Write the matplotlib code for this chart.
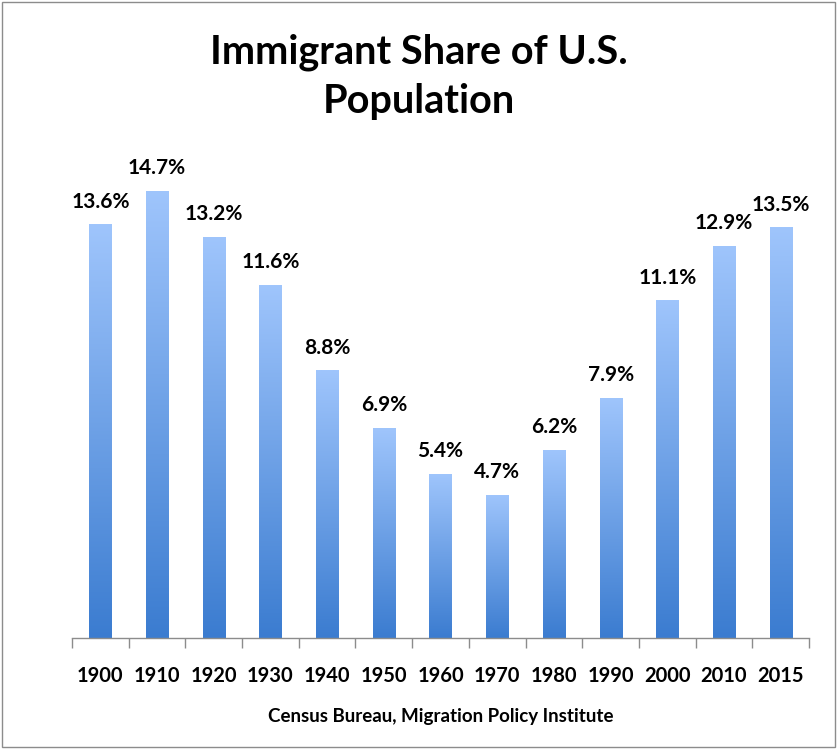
import numpy as np
import matplotlib
matplotlib.use("Agg")
import matplotlib.pyplot as plt
from matplotlib.colors import LinearSegmentedColormap
from matplotlib.patches import Rectangle

# ===== Data =====
years = ["1900", "1910", "1920", "1930", "1940", "1950", "1960",
         "1970", "1980", "1990", "2000", "2010", "2015"]
shares = [13.6, 14.7, 13.2, 11.6, 8.8, 6.9, 5.4, 4.7, 6.2, 7.9, 11.1, 12.9, 13.5]

plt.rcParams["font.family"] = ["Lato", "DejaVu Sans"]

fig = plt.figure(figsize=(8.38, 7.49), dpi=100)
ax = fig.add_axes([0.0859, 0.148, 0.8795, 0.652])

x = np.arange(len(years))
bars = ax.bar(x, shares, width=0.39, color="none", edgecolor="none")

# vertical gradient fill for each bar
cmap = LinearSegmentedColormap.from_list("bar_grad", ["#3b7cd0", "#9fc5fc"])
grad = np.linspace(0, 1, 256).reshape(-1, 1)
for b in bars:
    x0, y0 = b.get_x(), b.get_y()
    w, h = b.get_width(), b.get_height()
    im = ax.imshow(grad, cmap=cmap, origin="lower", aspect="auto",
                   extent=(x0, x0 + w, y0, y0 + h), zorder=2)
    im.set_clip_path(b)

for xi, v in zip(x, shares):
    ax.text(xi, v + 0.55, f"{v}%", ha="center", va="baseline",
            fontsize=15, fontweight="bold", color="black")

ax.set_xlim(-0.5, len(years) - 0.5)
ax.set_ylim(0, 16.05)

for s in ["top", "right", "left"]:
    ax.spines[s].set_visible(False)
ax.spines["bottom"].set_color("#8c8c8c")
ax.spines["bottom"].set_linewidth(1)
ax.set_yticks([])

ax.set_xticks(x)
ax.set_xticklabels(years, fontsize=14.5, fontweight="bold")
ax.tick_params(axis="x", which="major", length=0, pad=20)
ax.set_xticks(np.arange(-0.5, len(years)), minor=True)
ax.tick_params(axis="x", which="minor", length=7, color="#8c8c8c", width=1)

ax.set_xlabel("Census Bureau, Migration Policy Institute",
              fontsize=13.5, fontweight="bold", labelpad=16)

fig.text(0.5, 0.898, "Immigrant Share of U.S.\nPopulation", ha="center",
         va="center", fontsize=28.5, fontweight="bold", linespacing=1.4)

# outer border
fig.patches.append(Rectangle((0.002, 0.003), 0.995, 0.994, transform=fig.transFigure,
                             fill=False, edgecolor="#8c8c8c", linewidth=1))

fig.savefig("out.png", dpi=100)
